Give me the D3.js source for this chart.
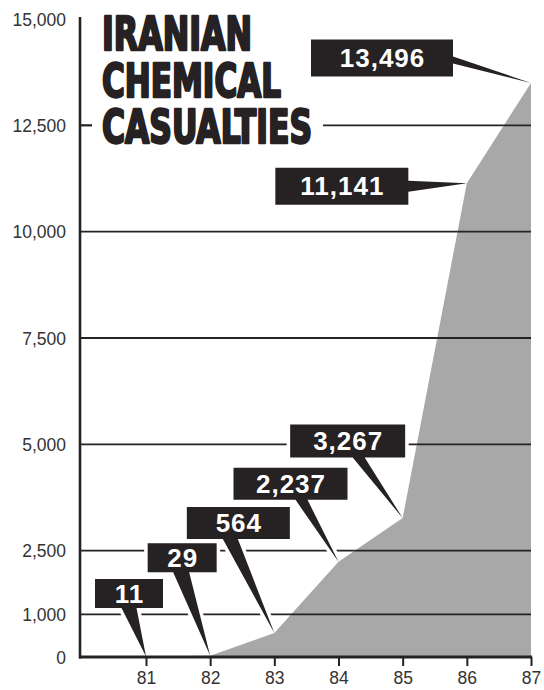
<!DOCTYPE html>
<html><head><meta charset="utf-8">
<script src="https://cdn.jsdelivr.net/npm/d3@7"></script>
<style>html,body{margin:0;padding:0;background:#fff;} svg{display:block;}</style>
</head><body>
<svg id="chart" width="544" height="690"></svg>
<script>
// ---- data ----
const years = [81, 82, 83, 84, 85, 86, 87];
const casualties = [11, 29, 564, 2237, 3267, 11141, 13496];
const yTickValues = [0, 1000, 2500, 5000, 7500, 10000, 12500, 15000];
const gridValues = [1000, 2500, 5000, 7500, 10000, 12500];
const titleLines = ["IRANIAN", "CHEMICAL", "CASUALTIES"];

// ---- label layout (offset of box centre from data point, box size, pointer) ----
const labelLayout = [
  {dx: -17,  dy: -63,  w: 68,  h: 29, side: "bottom", off: 0,   bw: 15},
  {dx: -28,  dy: -98,  w: 69,  h: 29, side: "bottom", off: -1,  bw: 16},
  {dx: -36,  dy: -110, w: 103, h: 32, side: "bottom", off: -8,  bw: 15},
  {dx: -48,  dy: -78,  w: 114, h: 32, side: "bottom", off: 11,  bw: 12},
  {dx: -55,  dy: -77,  w: 115, h: 33, side: "bottom", off: 11,  bw: 12},
  {dx: -125, dy: 3,    w: 133, h: 37, side: "right",  off: 0,   bw: 11},
  {dx: -149, dy: -25,  w: 142, h: 37, side: "right",  off: 2,   bw: 7}
];

const ink = "#262122";
const svg = d3.select("#chart");

const x = d3.scaleLinear().domain([81, 87]).range([146, 531]);
const y = d3.scaleLinear().domain([0, 15000]).range([657, 19]);
const axisX = 80;

const pts = years.map((yr, i) => ({year: yr, value: casualties[i]}));

// area
const area = d3.area().x(d => x(d.year)).y0(y(0)).y1(d => y(d.value)).curve(d3.curveLinear);
svg.append("defs").append("clipPath").attr("id", "areaClip")
  .append("path").attr("d", area(pts));

function drawGrid(g) {
  g.selectAll("line").data(gridValues).join("line")
    .attr("x1", axisX).attr("x2", x(87))
    .attr("y1", d => y(d)).attr("y2", d => y(d))
    .attr("stroke", ink).attr("stroke-width", 1.8);
}
drawGrid(svg.append("g"));

// knock-out behind title on the 12,500 line
svg.append("rect").attr("x", 92).attr("y", y(12500) - 8).attr("width", 231).attr("height", 16).attr("fill", "#fff");

// label geometry
function labelPath(d, L) {
  const tx = x(d.year), ty = y(d.value);
  const cx = tx + L.dx, cy = ty + L.dy;
  const x0 = cx - L.w / 2, x1 = cx + L.w / 2, y0 = cy - L.h / 2, y1 = cy + L.h / 2;
  const p = d3.path();
  p.moveTo(x0, y0); p.lineTo(x1, y0);
  if (L.side === "right") {
    const bc = cy + L.off;
    p.lineTo(x1, bc - L.bw / 2); p.lineTo(tx, ty); p.lineTo(x1, bc + L.bw / 2);
    p.lineTo(x1, y1); p.lineTo(x0, y1);
  } else {
    const bc = cx + L.off;
    p.lineTo(x1, y1); p.lineTo(bc + L.bw / 2, y1); p.lineTo(tx, ty); p.lineTo(bc - L.bw / 2, y1);
    p.lineTo(x0, y1);
  }
  p.closePath();
  return p.toString();
}

// halos
svg.append("g").selectAll("path").data(pts).join("path")
  .attr("d", (d, i) => labelPath(d, labelLayout[i]))
  .attr("fill", "#fff").attr("stroke", "#fff").attr("stroke-width", 7).attr("stroke-linejoin", "round");

// area fill
svg.append("path").attr("d", area(pts)).attr("fill", "#a9a8a8");
drawGrid(svg.append("g").attr("clip-path", "url(#areaClip)"));

// axes
svg.append("line").attr("x1", axisX).attr("x2", axisX).attr("y1", 17).attr("y2", y(0) + 1.5)
  .attr("stroke", ink).attr("stroke-width", 2.6);
svg.append("line").attr("x1", axisX - 1).attr("x2", x(87) + 1).attr("y1", y(0)).attr("y2", y(0))
  .attr("stroke", ink).attr("stroke-width", 3);
// 12,500 tick stub
svg.append("line").attr("x1", axisX).attr("x2", 92).attr("y1", y(12500)).attr("y2", y(12500))
  .attr("stroke", ink).attr("stroke-width", 1.8);

const xAxis = d3.axisBottom(x).tickValues(years).tickFormat(d3.format("d")).tickSize(9).tickPadding(6);
const gx = svg.append("g").attr("transform", `translate(0,${y(0)})`).call(xAxis);
gx.select(".domain").remove();
gx.selectAll(".tick line").attr("stroke", ink).attr("stroke-width", 2);
gx.selectAll(".tick text").attr("fill", "#333").attr("font-size", 17.5)
  .attr("font-family", "'Liberation Sans', Arial, Helvetica, sans-serif").attr("dy", "0.71em");

const yAxis = d3.axisLeft(y).tickValues(yTickValues).tickFormat(d3.format(",")).tickSize(0).tickPadding(14);
const gy = svg.append("g").attr("transform", `translate(${axisX},0)`).call(yAxis);
gy.select(".domain").remove();
gy.selectAll(".tick text").attr("fill", "#333").attr("font-size", 17.5)
  .attr("font-family", "'Liberation Sans', Arial, Helvetica, sans-serif").attr("dy", "0.36em");

// title
const titleLens = [150, 179, 210];
const titleBase = [50, 97, 143];
svg.append("g").selectAll("text").data(titleLines).join("text")
  .attr("x", 102).attr("y", (d, i) => titleBase[i])
  .attr("textLength", (d, i) => titleLens[i]).attr("lengthAdjust", "spacingAndGlyphs")
  .attr("font-family", "'Liberation Sans Narrow', 'DejaVu Sans Condensed', 'Liberation Sans', sans-serif")
  .attr("font-weight", "bold").attr("font-size", 46)
  .attr("fill", ink).attr("stroke", ink).attr("stroke-width", 2.4).attr("stroke-linejoin", "round")
  .text(d => d);

// label boxes
svg.append("g").selectAll("path").data(pts).join("path")
  .attr("d", (d, i) => labelPath(d, labelLayout[i]))
  .attr("fill", ink);
svg.append("g").selectAll("text").data(pts).join("text")
  .attr("x", (d, i) => x(d.year) + labelLayout[i].dx + 0.5)
  .attr("y", (d, i) => y(d.value) + labelLayout[i].dy + 9)
  .attr("text-anchor", "middle")
  .attr("font-family", "'Liberation Sans', Arial, Helvetica, sans-serif")
  .attr("font-weight", "bold").attr("font-size", 26).attr("letter-spacing", 1)
  .attr("fill", "#fff")
  .text(d => d3.format(",")(d.value));
</script>
</body></html>
